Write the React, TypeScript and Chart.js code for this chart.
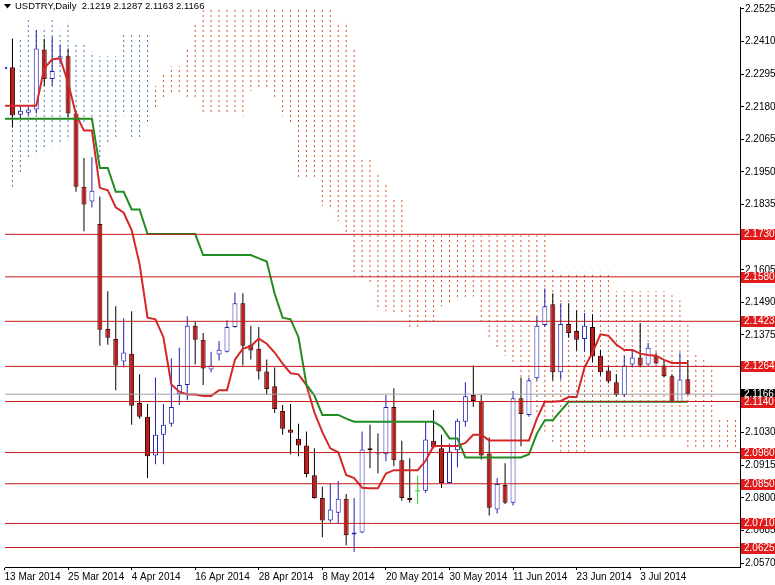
import React, { useEffect, useRef } from 'react';
import { Chart, registerables } from 'chart.js';

Chart.register(...registerables);

// ---------- data ----------
const titleText = 'USDTRY,Daily  2.1219 2.1287 2.1163 2.1166';

const dateTickIdx = [0, 8, 16, 24, 32, 40, 48, 56, 64, 72, 80];
const dateLabels = [
  '13 Mar 2014', '25 Mar 2014', '4 Apr 2014', '16 Apr 2014', '28 Apr 2014', '8 May 2014',
  '20 May 2014', '30 May 2014', '11 Jun 2014', '23 Jun 2014', '3 Jul 2014',
];

const yTicks = [
  2.0570, 2.0685, 2.0800, 2.0915, 2.1030, 2.1145, 2.1260, 2.1375, 2.1490, 2.1605,
  2.1720, 2.1835, 2.1950, 2.2065, 2.2180, 2.2295, 2.2410, 2.2525,
];

const opens = [
  2.2312, 2.2319, 2.2152, 2.2159, 2.2170, 2.2382, 2.2278, 2.2347, 2.2358, 2.2156,
  2.1898, 2.1846, 2.1766, 2.1396, 2.1361, 2.1281, 2.1309, 2.1135, 2.1086, 2.0950,
  2.1023, 2.1062, 2.1166, 2.1198, 2.1407, 2.1358, 2.1253, 2.1306, 2.1316, 2.1403,
  2.1487, 2.1340, 2.1326, 2.1246, 2.1194, 2.1107, 2.1041, 2.1009, 2.0985, 2.0880,
  2.0800, 2.0720, 2.0748, 2.0797, 2.0671, 2.0678, 2.0975, 2.0957, 2.0954, 2.1121,
  2.0933, 2.0800, 2.0825, 2.0825, 2.1002, 2.0975, 2.0853, 2.0968, 2.1069, 2.1163,
  2.1142, 2.0957, 2.0759, 2.0846, 2.0783, 2.1152, 2.1093, 2.1222, 2.1410, 2.1483,
  2.1243, 2.1414, 2.1389, 2.1361, 2.1403, 2.1302, 2.1250, 2.1208, 2.1163, 2.1271,
  2.1295, 2.1271, 2.1302, 2.1267, 2.1229, 2.1138, 2.1219,
];
const highs = [
  2.2330, 2.2421, 2.2184, 2.2180, 2.2450, 2.2420, 2.2427, 2.2400, 2.2386, 2.2166,
  2.1999, 2.2002, 2.1863, 2.1529, 2.1476, 2.1434, 2.1459, 2.1236, 2.1131, 2.1225,
  2.1131, 2.1292, 2.1330, 2.1441, 2.1424, 2.1382, 2.1316, 2.1354, 2.1427, 2.1525,
  2.1522, 2.1407, 2.1403, 2.1288, 2.1260, 2.1128, 2.1131, 2.1062, 2.1034, 2.0975,
  2.0839, 2.0849, 2.0860, 2.0814, 2.0800, 2.1034, 2.1058, 2.1027, 2.1163, 2.1187,
  2.1002, 2.0940, 2.0880, 2.1069, 2.1110, 2.1023, 2.0992, 2.1079, 2.1208, 2.1267,
  2.1163, 2.1013, 2.0870, 2.0922, 2.1177, 2.1225, 2.1225, 2.1441, 2.1539, 2.1522,
  2.1487, 2.1487, 2.1462, 2.1452, 2.1448, 2.1323, 2.1267, 2.1236, 2.1302, 2.1323,
  2.1417, 2.1347, 2.1313, 2.1285, 2.1236, 2.1313, 2.1287,
];
const lows = [
  2.2300, 2.2107, 2.2138, 2.2150, 2.2156, 2.2253, 2.2253, 2.2330, 2.2142, 2.1880,
  2.1741, 2.1825, 2.1337, 2.1340, 2.1180, 2.1260, 2.1058, 2.1079, 2.0870, 2.0919,
  2.0919, 2.1051, 2.1128, 2.1145, 2.1271, 2.1198, 2.1243, 2.1285, 2.1313, 2.1400,
  2.1267, 2.1288, 2.1218, 2.1163, 2.1100, 2.1023, 2.0954, 2.0947, 2.0873, 2.0797,
  2.0661, 2.0713, 2.0710, 2.0633, 2.0609, 2.0675, 2.0905, 2.0887, 2.0929, 2.0912,
  2.0790, 2.0783, 2.0779, 2.0818, 2.0975, 2.0835, 2.0851, 2.0908, 2.1051, 2.1121,
  2.0936, 2.0738, 2.0745, 2.0779, 2.0773, 2.0982, 2.1086, 2.1215, 2.1403, 2.1215,
  2.1218, 2.1365, 2.1320, 2.1316, 2.1278, 2.1232, 2.1205, 2.1159, 2.1156, 2.1260,
  2.1260, 2.1267, 2.1271, 2.1225, 2.1135, 2.1135, 2.1163,
];
const closes = [
  2.2320, 2.2149, 2.2166, 2.2170, 2.2386, 2.2278, 2.2306, 2.2358, 2.2156, 2.1898,
  2.1835, 2.1884, 2.1393, 2.1365, 2.1267, 2.1313, 2.1125, 2.1086, 2.0947, 2.1023,
  2.1058, 2.1121, 2.1198, 2.1407, 2.1358, 2.1257, 2.1267, 2.1323, 2.1403, 2.1487,
  2.1337, 2.1320, 2.1246, 2.1184, 2.1114, 2.1044, 2.1030, 2.0985, 2.0884, 2.0800,
  2.0720, 2.0759, 2.0797, 2.0668, 2.0678, 2.0971, 2.0968, 2.0954, 2.1121, 2.0933,
  2.0800, 2.0793, 2.0825, 2.1006, 2.0978, 2.0853, 2.0964, 2.1072, 2.1159, 2.1142,
  2.0950, 2.0765, 2.0849, 2.0783, 2.1152, 2.1096, 2.1215, 2.1407, 2.1476, 2.1243,
  2.1414, 2.1382, 2.1358, 2.1407, 2.1299, 2.1243, 2.1211, 2.1163, 2.1267, 2.1295,
  2.1267, 2.1330, 2.1274, 2.1229, 2.1138, 2.1218, 2.1166,
];

const tenkan = [
  2.2184, 2.2184, 2.2184, 2.2184, 2.2184, 2.2316, 2.2347, 2.2351, 2.2265, 2.2153,
  2.2096, 2.2096, 2.1894, 2.1885, 2.1825, 2.1806, 2.1745, 2.1625, 2.1436, 2.1430,
  2.1367, 2.1200, 2.1175, 2.1165, 2.1165, 2.1160, 2.1160, 2.1180, 2.1180, 2.1288,
  2.1327, 2.1335, 2.1362, 2.1344, 2.1313, 2.1274, 2.1240, 2.1236, 2.1198, 2.1102,
  2.1032, 2.0975, 2.0961, 2.0881, 2.0870, 2.0836, 2.0834, 2.0834, 2.0886, 2.0898,
  2.0898, 2.0898, 2.0898, 2.0931, 2.0983, 2.0983, 2.0983, 2.0983, 2.0994, 2.1023,
  2.1023, 2.1003, 2.1003, 2.1003, 2.1003, 2.1003, 2.1003, 2.1080, 2.1139, 2.1139,
  2.1142, 2.1156, 2.1156, 2.1261, 2.1313, 2.1377, 2.1372, 2.1341, 2.1322, 2.1322,
  2.1309, 2.1304, 2.1302, 2.1287, 2.1276, 2.1276, 2.1276,
];
const kijun = [
  2.2138, 2.2138, 2.2138, 2.2138, 2.2138, 2.2138, 2.2138, 2.2138, 2.2138, 2.2138,
  2.2138, 2.2138, 2.1964, 2.1964, 2.1880, 2.1880, 2.1818, 2.1818, 2.1731, 2.1731,
  2.1731, 2.1731, 2.1731, 2.1731, 2.1731, 2.1657, 2.1657, 2.1657, 2.1657, 2.1657,
  2.1657, 2.1657, 2.1645, 2.1634, 2.1520, 2.1436, 2.1430, 2.1367, 2.1200, 2.1161,
  2.1093, 2.1093, 2.1093, 2.1080, 2.1069, 2.1069, 2.1069, 2.1069, 2.1069, 2.1069,
  2.1069, 2.1069, 2.1069, 2.1069, 2.1069, 2.1051, 2.1010, 2.1010, 2.0943, 2.0943,
  2.0943, 2.0943, 2.0943, 2.0943, 2.0943, 2.0943, 2.0954, 2.1027, 2.1074, 2.1074,
  2.1107, 2.1139, 2.1139, 2.1139, 2.1139, 2.1139, 2.1139, 2.1139, 2.1139, 2.1139,
  2.1139, 2.1139, 2.1139, 2.1139, 2.1139, 2.1139, 2.1139,
];

// Kumo (cloud) boundaries, shifted ahead of price
const kumoUpper = [
  2.2427, 2.2420, 2.2420, 2.2490, 2.2462, 2.2462, 2.2497, 2.2445, 2.2480, 2.2403,
  2.2400, 2.2375, 2.2358, 2.2358, 2.2358, 2.2434, 2.2434, 2.2434, 2.2434, 2.2253,
  2.2299, 2.2323, 2.2323, 2.2382, 2.2473, 2.2600, 2.2600, 2.2600, 2.2600, 2.2600,
  2.2600, 2.2600, 2.2600, 2.2600, 2.2600, 2.2600, 2.2600, 2.2600, 2.2600, 2.2600,
  2.2600, 2.2600, 2.2480, 2.2480, 2.2386, 2.1999, 2.1999, 2.1940, 2.1905, 2.1860,
  2.1853, 2.1726, 2.1726, 2.1726, 2.1726, 2.1726, 2.1726, 2.1726, 2.1726, 2.1726,
  2.1726, 2.1726, 2.1726, 2.1726, 2.1726, 2.1726, 2.1726, 2.1726, 2.1726, 2.1609,
  2.1598, 2.1598, 2.1598, 2.1598, 2.1598, 2.1598, 2.1598, 2.1529, 2.1529, 2.1529,
  2.1529, 2.1529, 2.1529, 2.1529, 2.1515, 2.1497, 2.1417, 2.1306, 2.1292, 2.1267,
  2.1076, 2.1076, 2.1076,
];
const kumoLower = [
  2.1887, 2.1898, 2.1950, 2.2002, 2.2009, 2.2027, 2.2044, 2.2044, 2.2062, 2.2114,
  2.2124, 2.2124, 2.1999, 2.2044, 2.2069, 2.2149, 2.2069, 2.2069, 2.2114, 2.2173,
  2.2208, 2.2229, 2.2229, 2.2208, 2.2208, 2.2159, 2.2159, 2.2159, 2.2159, 2.2159,
  2.2149, 2.2236, 2.2246, 2.2246, 2.2208, 2.2149, 2.2124, 2.1929, 2.1929, 2.1929,
  2.1830, 2.1815, 2.1776, 2.1738, 2.1584, 2.1574, 2.1550, 2.1462, 2.1459, 2.1452,
  2.1452, 2.1400, 2.1400, 2.1424, 2.1424, 2.1476, 2.1487, 2.1497, 2.1504, 2.1511,
  2.1424, 2.1365, 2.1323, 2.1302, 2.1271, 2.1215, 2.1156, 2.1103, 2.1034, 2.0988,
  2.0964, 2.0964, 2.0964, 2.0964, 2.1006, 2.1006, 2.1006, 2.1006, 2.1006, 2.1006,
  2.1006, 2.1006, 2.1006, 2.1006, 2.1006, 2.1006, 2.0975, 2.0975, 2.0975, 2.0975,
  2.0975, 2.0975, 2.0975,
];
const kumoBullLast = 18; // bars up to this index use the bullish (blue) kumo colour

const levelLines = [2.1730, 2.1580, 2.1423, 2.1264, 2.1140, 2.0960, 2.0850, 2.0710, 2.0625];
const bidPrice = 2.1166;

// ---------- view ----------
const X_MIN = 0.0625;
const X_MAX = 92.5625;
const Y_MIN = 2.05563;
const Y_MAX = 2.2532;
const FONT = '"Liberation Sans", Arial, sans-serif';

function makeDotPattern(ctx: CanvasRenderingContext2D, color: string) {
  const c = document.createElement('canvas');
  c.width = 1;
  c.height = 5;
  const g = c.getContext('2d')!;
  g.fillStyle = color;
  g.fillRect(0, 0, 1, 2);
  return ctx.createPattern(c, 'repeat');
}

const overlayPlugin = {
  id: 'mtOverlay',
  afterDraw(chart: any) {
    const { ctx } = chart;
    const ys = chart.scales.y;
    ctx.save();
    const box = (v: number, bg: string) => {
      const py = Math.round(ys.getPixelForValue(v));
      ctx.fillStyle = bg;
      ctx.fillRect(741, py - 5, 34, 11);
      ctx.fillStyle = '#ffffff';
      ctx.font = `10px ${FONT}`;
      ctx.textBaseline = 'middle';
      ctx.textAlign = 'left';
      ctx.fillText(v.toFixed(4), 744, py + 0.5);
    };
    box(bidPrice, '#000000');
    levelLines.forEach((v) => box(v, '#E11B1B'));
    // title
    ctx.fillStyle = '#000000';
    ctx.beginPath();
    ctx.moveTo(4, 4);
    ctx.lineTo(11, 4);
    ctx.lineTo(7.5, 8.5);
    ctx.closePath();
    ctx.fill();
    ctx.font = `9.5px ${FONT}`;
    ctx.textBaseline = 'top';
    ctx.textAlign = 'left';
    ctx.fillText(titleText, 15, 1.5);
    ctx.restore();
  },
};

export default function App() {
  const ref = useRef<HTMLCanvasElement>(null);

  useEffect(() => {
    document.body.style.margin = '0';
    const canvas = ref.current!;
    const ctx = canvas.getContext('2d')!;
    const bluePat = makeDotPattern(ctx, '#4479AE');
    const orangePat = makeDotPattern(ctx, '#D8552A');

    const idx = opens.map((_, i) => i);
    const isDoji = (i: number) => opens[i] === closes[i];
    const isBull = (i: number) => closes[i] > opens[i];
    const bodyIdx = idx.filter((i) => !isDoji(i));
    const dojiIdx = idx.filter((i) => isDoji(i));
    const kIdx = kumoUpper.map((_, i) => i);
    const kBlue = kIdx.filter((i) => i <= kumoBullLast);
    const kOrange = kIdx.filter((i) => i > kumoBullLast);

    const BULL = '#2020B0';
    const BEAR_FILL = '#B81C1C';
    const BEAR_EDGE = '#3A0000';
    const DOJI = '#32CD32';

    const datasets: any[] = [
      {
        type: 'bar', order: 9, grouped: false, maxBarThickness: 1, inflateAmount: 0,
        data: kBlue.map((i) => ({ x: i, y: [kumoLower[i], kumoUpper[i]] })),
        backgroundColor: bluePat, borderWidth: 0,
      },
      {
        type: 'bar', order: 9, grouped: false, maxBarThickness: 1, inflateAmount: 0,
        data: kOrange.map((i) => ({ x: i, y: [kumoLower[i], kumoUpper[i]] })),
        backgroundColor: orangePat, borderWidth: 0,
      },
      {
        type: 'bar', order: 7, grouped: false, maxBarThickness: 1, inflateAmount: 0,
        data: idx.map((i) => ({ x: i, y: [lows[i], highs[i]] })),
        backgroundColor: idx.map((i) => (isDoji(i) ? DOJI : isBull(i) ? BULL : '#000000')),
        borderWidth: 0,
      },
      {
        type: 'bar', order: 6, grouped: false, maxBarThickness: 5, inflateAmount: 0,
        data: bodyIdx.map((i) => ({ x: i, y: [opens[i], closes[i]] })),
        backgroundColor: bodyIdx.map((i) => (isBull(i) ? '#FFFFFF' : BEAR_FILL)),
        borderColor: bodyIdx.map((i) => (isBull(i) ? BULL : BEAR_EDGE)),
        borderWidth: 1, borderSkipped: false,
      },
      {
        type: 'line', order: 5, showLine: false,
        data: dojiIdx.map((i) => ({ x: i, y: opens[i] })),
        pointStyle: 'line', pointRadius: 2.5, pointBorderColor: DOJI, pointBorderWidth: 1,
      },
      {
        type: 'line', order: 3,
        data: idx.map((i) => ({ x: i, y: kijun[i] })),
        borderColor: '#228B22', borderWidth: 2, pointRadius: 0, tension: 0,
      },
      {
        type: 'line', order: 3,
        data: idx.map((i) => ({ x: i, y: tenkan[i] })),
        borderColor: '#D42828', borderWidth: 2, pointRadius: 0, tension: 0,
      },
      ...levelLines.map((v) => ({
        type: 'line', order: 2,
        data: [{ x: X_MIN, y: v }, { x: X_MAX, y: v }],
        borderColor: '#C41A1A', borderWidth: 1, pointRadius: 0,
      })),
      {
        type: 'line', order: 1,
        data: [{ x: X_MIN, y: bidPrice }, { x: X_MAX, y: bidPrice }],
        borderColor: '#A0A0A0', borderWidth: 1, pointRadius: 0,
      },
    ];

    const chart = new Chart(ctx, {
      type: 'bar',
      data: { datasets },
      options: {
        responsive: false,
        animation: false,
        events: [],
        layout: { padding: 0 },
        plugins: { legend: { display: false }, tooltip: { enabled: false }, title: { display: false } },
        scales: {
          x: {
            type: 'linear', min: X_MIN, max: X_MAX, offset: false,
            grid: { drawOnChartArea: false, drawTicks: true, tickLength: 3, color: '#000000', offset: false },
            border: { display: true, color: '#000000', width: 1 },
            ticks: {
              autoSkip: false, maxRotation: 0, minRotation: 0, align: 'start', padding: 1,
              color: '#000000', font: { family: FONT, size: 10 },
              callback: (v: any) => {
                const k = dateTickIdx.indexOf(Number(v));
                return k >= 0 ? dateLabels[k] : '';
              },
            },
            afterBuildTicks: (s: any) => { s.ticks = dateTickIdx.map((v) => ({ value: v })); },
            afterFit: (s: any) => { s.height = 18; },
          },
          y: {
            type: 'linear', position: 'right', min: Y_MIN, max: Y_MAX,
            grid: { drawOnChartArea: false, drawTicks: true, tickLength: 4, color: '#000000' },
            border: { display: true, color: '#000000', width: 1 },
            ticks: {
              autoSkip: false, padding: 1, color: '#000000', font: { family: FONT, size: 10 },
              callback: (v: any) => Number(v).toFixed(4),
            },
            afterBuildTicks: (s: any) => { s.ticks = yTicks.map((v) => ({ value: v })); },
            afterFit: (s: any) => { s.width = 35; },
          },
        },
      } as any,
      plugins: [overlayPlugin],
    });
    return () => chart.destroy();
  }, []);

  return (
    <div style={{ width: 775, height: 585, background: '#ffffff' }}>
      <canvas ref={ref} width={775} height={585} style={{ display: 'block' }} />
    </div>
  );
}
